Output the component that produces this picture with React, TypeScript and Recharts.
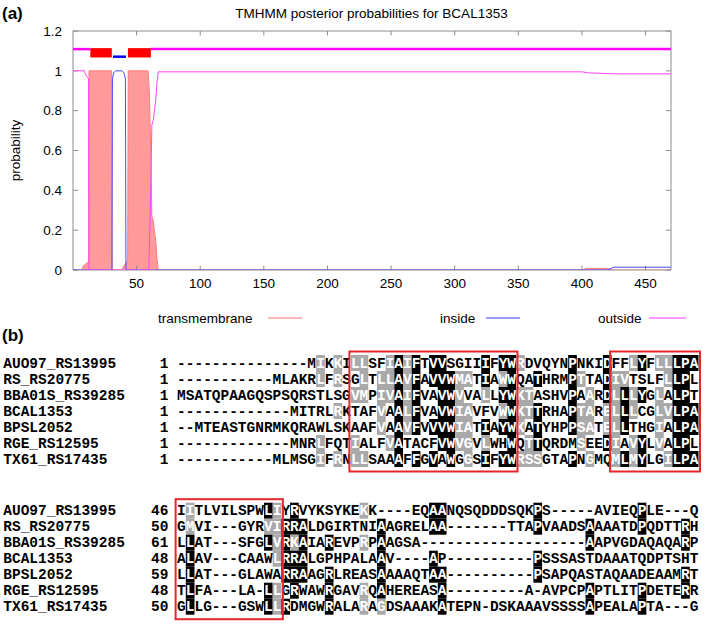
import React from 'react';
import { ComposedChart, Area, Line, XAxis, YAxis, ReferenceArea, ReferenceLine } from 'recharts';

// (a) TMHMM posterior probabilities for BCAL1353
const tmResidue = [0, 7, 8, 10, 12, 12.4, 12.6, 30.4, 30.8, 38, 40, 42, 43, 43.4, 59, 60, 61, 62, 63, 64, 65, 66, 67, 401, 403, 420, 424, 470];
const tmProb = [0, 0, 0.02, 0.03, 0.04, 0.05, 1, 1, 0, 0, 0.02, 0.04, 0.05, 1, 1, 0.9, 0.63, 0.27, 0.25, 0.2, 0.15, 0.06, 0, 0, 0.008, 0.008, 0, 0];

const insideResidue = [0, 30.6, 31, 32, 33.5, 38.5, 40, 41.2, 41.6, 420, 425, 470];
const insideProb = [0, 0, 0.96, 0.99, 1, 1, 0.99, 0.96, 0, 0, 0.014, 0.014];

const outsideResidue = [0, 9, 10, 11, 12.2, 12.5, 59.5, 60, 61, 62, 63, 64, 65, 66, 67, 400, 405, 425, 470];
const outsideProb = [1, 1, 0.98, 0.97, 0.96, 0, 0, 0.1, 0.37, 0.73, 0.75, 0.8, 0.85, 0.94, 0.995, 0.995, 0.99, 0.985, 0.985];

// predicted topology drawn across the top
const helixRanges = [[13.6, 30.5], [43.2, 61.2]];
const insideRanges = [[31.4, 41.6]];
const outsideRanges = [[0, 13.6], [61.2, 470]];

const xTicks = [50, 100, 150, 200, 250, 300, 350, 400, 450];
const yTicks = [0, 0.2, 0.4, 0.6, 0.8, 1, 1.2];

const seriesNames = ['transmembrane', 'inside', 'outside'];
const seriesColors = ['#ff6f6f', '#3a3aff', '#ff33ff'];

// (b) alignment
const seqNames = ['AUO97_RS13995', 'RS_RS20775', 'BBA01S_RS39285', 'BCAL1353', 'BPSL2052', 'RGE_RS12595', 'TX61_RS17435'];
const block1Starts = [1, 1, 1, 1, 1, 1, 1];
const block1 = [
  '---------------MIKKILLSFIAIFTVVSGIIIFYWRDVQYNPNKIDFFLYFLLLPA',
  '-----------MLAKRLFRSGLTLLAVFAVVWMATIAWWQATHRMPTTADIVTSLFLLPL',
  'MSATQPAAGQSPSQRSTLSGVMPIVAIFVAVWVVALLYWKTASHVPAARDLLLYGLALPT',
  '-------------MITRLRKTAFVAALFVAVWIAVFVWWKTTRHAPTARELLLCGLVLPA',
  '--MTEASTGNRMKQRAWLSKAAFVAAVFVVVWIATIAYWKATYHPPSATELLTHGIALPA',
  '-------------MNRLFQTIALFVATACFVWVGVLWHWQTTQRDMSEEDIAVYLVALPL',
  '-----------MLMSGIFRNLLSAAAFFGVAWGGSIFYWRSSGTAPNGMQMLMYLGILPA',
];
const block2Starts = [46, 50, 61, 48, 59, 48, 50];
const block2 = [
  'IITLVILSPWLIYRVYKSYKEKK----EQAANQSQDDDSQKPS-----AVIEQPLE---Q',
  'GMVI---GYRVIRRALDGIRTNIAAGRELAA-------TTAPVAADSAAAATDPQDTTRH',
  'LLAT---SFGLVRKAIAREVPRPAAGSA-------------------AAPVGDAQAQARP',
  'ALAV---CAAWLRRALGPHPALAAV----AP----------PSSSASTDAAATQDPTSHT',
  'LLAT---GLAWARRAAGRLREASAAAAQTAA----------PSAPQASTAQAADEAAMRT',
  'TLFA---LA-LLGRWAWRGAVRQAHEREASA---------A-AVPCPAPTLITPDETERR',
  'GLLG---GSWLLRDMGWRALARAGDSAAAKATEPN-DSKAAAVSSSSAPEALAPTA---G',
];
// boxed columns (first, last)
const block1Boxes = [[20, 38], [50, 59]];
const block2Boxes = [[0, 11]];

const similarGroups = ['ILVM', 'FYW', 'KR', 'DE', 'ST', 'NQ', 'AG'];

const sans = '"Liberation Sans", Arial, sans-serif';
const mono = '"Liberation Mono", "Courier New", monospace';
const CW = 8.69;
const NAME_X = 3.3;
const SEQ_X = NAME_X + 20 * CW;
const ROW_H = 16;

function zip(xs: number[], ys: number[]) {
  return xs.map((x, i) => ({ x, p: ys[i] }));
}

// identical majority -> black, similar residues -> grey
function shadeBlock(seqs: string[]) {
  const len = seqs[0].length;
  const out = seqs.map(() => Array(len).fill(''));
  for (let c = 0; c < len; c++) {
    const col = seqs.map((s) => s[c]);
    const counts: Record<string, number> = {};
    col.forEach((r) => {
      if (r !== '-') counts[r] = (counts[r] || 0) + 1;
    });
    let best = '';
    let bc = 0;
    for (const r in counts) if (counts[r] > bc) { bc = counts[r]; best = r; }
    if (bc >= 4) {
      const g = similarGroups.find((s) => s.includes(best));
      col.forEach((r, i) => {
        if (r === best) out[i][c] = 'k';
        else if (g && r !== '-' && g.includes(r)) out[i][c] = 'g';
      });
    } else {
      similarGroups.forEach((g) => {
        const m = col.filter((r) => g.includes(r)).length;
        if (m >= 4) col.forEach((r, i) => { if (g.includes(r)) out[i][c] = 'g'; });
      });
    }
  }
  return out;
}

function AlignBlock({ seqs, starts, boxes, top }: { seqs: string[]; starts: number[]; boxes: number[][]; top: number }) {
  const shade = shadeBlock(seqs);
  const last = top + (seqs.length - 1) * ROW_H;
  return (
    <g>
      {seqs.map((s, i) => {
        const cy = top + i * ROW_H;
        const runs: { c0: number; len: number; k: string }[] = [];
        shade[i].forEach((k, c) => {
          const prev = runs[runs.length - 1];
          if (prev && prev.k === k && prev.c0 + prev.len === c) prev.len++;
          else runs.push({ c0: c, len: 1, k });
        });
        return (
          <g key={i}>
            {runs.filter((r) => r.k).map((r, j) => (
              <rect key={j} x={SEQ_X + r.c0 * CW} y={cy - ROW_H / 2} width={r.len * CW} height={ROW_H}
                fill={r.k === 'k' ? '#000' : '#a9a9a9'} />
            ))}
            <text x={NAME_X} y={cy + 4.6} fontFamily={mono} fontWeight="bold" fontSize={14.48}>{seqNames[i]}</text>
            <text x={NAME_X + 19 * CW} y={cy + 4.6} fontFamily={mono} fontWeight="bold" fontSize={14.48} textAnchor="end">{starts[i]}</text>
            <text y={cy + 4.6} fontFamily={mono} fontWeight="bold" fontSize={14.48}>
              {runs.map((r, j) => (
                <tspan key={j} x={SEQ_X + r.c0 * CW} fill={r.k ? '#fff' : '#000'}>{s.substr(r.c0, r.len)}</tspan>
              ))}
            </text>
          </g>
        );
      })}
      {boxes.map(([c0, c1], i) => (
        <rect key={i} x={SEQ_X + c0 * CW - 1.5} y={top - 11.5} width={(c1 - c0 + 1) * CW + 3} height={last - top + 24}
          fill="none" stroke="#e8262a" strokeWidth={2} />
      ))}
    </g>
  );
}

export default function App() {
  const tick = { fontSize: 13.5, fill: '#000', fontFamily: sans };
  const legendX = [[158, 268, 302], [440, 486, 520], [598, 649, 686]];
  return (
    <div style={{ position: 'relative', width: 709, height: 626, background: '#fff' }}>
      <style>{'body{margin:0}'}</style>
      <div style={{ position: 'absolute', left: 0, top: 0 }}>
        <ComposedChart width={709} height={300} margin={{ top: 31, right: 38, left: 0, bottom: 0 }}>
          <XAxis dataKey="x" type="number" domain={[0, 470]} ticks={xTicks} allowDataOverflow
            tickLine={false} axisLine={false} tickSize={6} tickMargin={2} height={30} tick={tick} />
          <YAxis type="number" domain={[0, 1.2]} ticks={yTicks} allowDataOverflow width={73}
            tickLine={false} axisLine={false} tickSize={6} tickMargin={5} tick={tick} />
          <ReferenceArea x1={0} x2={470} y1={0} y2={1.2} fill="none" fillOpacity={0} stroke="#8c8c8c" strokeWidth={1} ifOverflow="visible" />
          {xTicks.map((t) => (
            <ReferenceLine key={'b' + t} segment={[{ x: t, y: 0 }, { x: t, y: 0.022 }]} stroke="#8c8c8c" />
          ))}
          {xTicks.map((t) => (
            <ReferenceLine key={'t' + t} segment={[{ x: t, y: 1.2 }, { x: t, y: 1.178 }]} stroke="#8c8c8c" />
          ))}
          {yTicks.map((t) => (
            <ReferenceLine key={'l' + t} segment={[{ x: 0, y: t }, { x: 4, y: t }]} stroke="#8c8c8c" />
          ))}
          {yTicks.map((t) => (
            <ReferenceLine key={'r' + t} segment={[{ x: 470, y: t }, { x: 466, y: t }]} stroke="#8c8c8c" />
          ))}
          <Area data={zip(tmResidue, tmProb)} dataKey="p" type="linear" fill="#ff9a9a" fillOpacity={1}
            stroke="#ff7c7c" strokeWidth={1} dot={false} activeDot={false} isAnimationActive={false} />
          <Line data={zip(insideResidue, insideProb)} dataKey="p" type="linear" stroke="#4b4bff" strokeWidth={1}
            dot={false} activeDot={false} isAnimationActive={false} />
          <Line data={zip(outsideResidue, outsideProb)} dataKey="p" type="linear" stroke="#ff44ff" strokeWidth={1}
            dot={false} activeDot={false} isAnimationActive={false} />
          {outsideRanges.map(([a, b], i) => (
            <ReferenceLine key={'o' + i} segment={[{ x: a, y: 1.109 }, { x: b, y: 1.109 }]} stroke="#ff00ff" strokeWidth={2.5} />
          ))}
          {insideRanges.map(([a, b], i) => (
            <ReferenceLine key={'i' + i} segment={[{ x: a, y: 1.071 }, { x: b, y: 1.071 }]} stroke="#0000ee" strokeWidth={2.5} />
          ))}
          {helixRanges.map(([a, b], i) => (
            <ReferenceArea key={'h' + i} x1={a} x2={b} y1={1.067} y2={1.114} fill="#ff0000" fillOpacity={1} stroke="none" />
          ))}
        </ComposedChart>
      </div>
      <svg width={709} height={626} style={{ position: 'absolute', left: 0, top: 0, pointerEvents: 'none' }}>
        <text x={2} y={19} fontFamily={sans} fontWeight="bold" fontSize={17}>(a)</text>
        <text x={371.5} y={18} fontFamily={sans} fontSize={13.5} textAnchor="middle">TMHMM posterior probabilities for BCAL1353</text>
        <text transform="translate(15,150.5) rotate(-90)" fontFamily={sans} fontSize={13.5} textAnchor="middle" dominantBaseline="central">probability</text>
        {seriesNames.map((n, i) => (
          <g key={n}>
            <text x={legendX[i][0]} y={322.5} fontFamily={sans} fontSize={13.5}>{n}</text>
            <line x1={legendX[i][1]} x2={legendX[i][2]} y1={318} y2={318} stroke={seriesColors[i]} strokeWidth={1} />
          </g>
        ))}
        <text x={2} y={341} fontFamily={sans} fontWeight="bold" fontSize={17}>(b)</text>
        <AlignBlock seqs={block1} starts={block1Starts} boxes={block1Boxes} top={363} />
        <AlignBlock seqs={block2} starts={block2Starts} boxes={block2Boxes} top={510.7} />
      </svg>
    </div>
  );
}
